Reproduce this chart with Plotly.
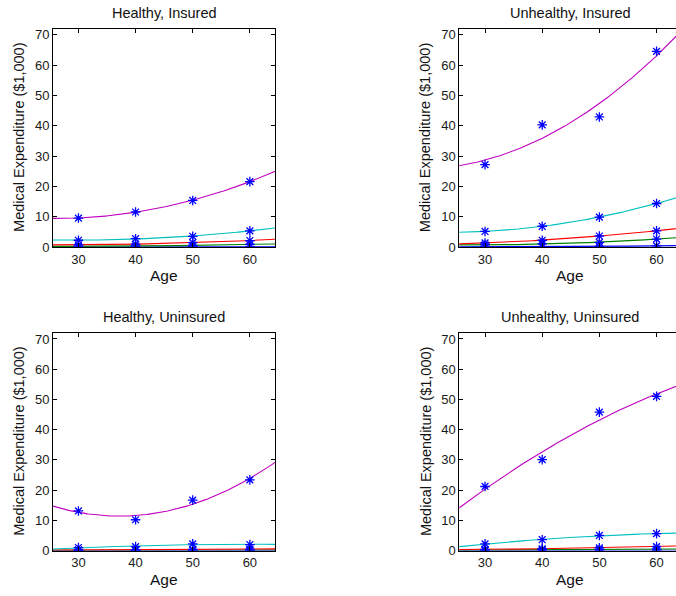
import numpy as np
import plotly.graph_objects as go

# Survey ages at which expenditure quantiles were measured
ages = [30, 40, 50, 60]

# Expenditure quantiles ($1,000), lowest to highest, for each group
healthy_insured = {
    "q1": [0.05, 0.06, 0.08, 0.12],
    "q2": [0.3, 0.4, 0.6, 0.9],
    "q3": [0.8, 1.0, 1.5, 2.2],
    "q4": [2.3, 2.8, 3.6, 5.4],
    "q5": [9.6, 11.6, 15.4, 21.6],
}
unhealthy_insured = {
    "q1": [0.1, 0.15, 0.25, 0.45],
    "q2": [0.75, 1.1, 1.6, 2.7],
    "q3": [1.4, 2.3, 3.7, 5.4],
    "q4": [5.2, 6.9, 9.9, 14.4],
    "q5": [27.2, 40.3, 42.9, 64.5],
}
healthy_uninsured = {
    "q1": [0.03, 0.04, 0.05, 0.06],
    "q2": [0.1, 0.12, 0.15, 0.18],
    "q3": [0.2, 0.3, 0.4, 0.5],
    "q4": [1.0, 1.3, 2.2, 2.0],
    "q5": [13.1, 10.2, 16.7, 23.4],
}
unhealthy_uninsured = {
    "q1": [0.05, 0.06, 0.08, 0.1],
    "q2": [0.2, 0.3, 0.4, 0.5],
    "q3": [0.4, 0.6, 0.9, 1.3],
    "q4": [2.2, 3.6, 5.0, 5.6],
    "q5": [21.2, 30.1, 45.8, 51.0],
}

panel_titles = ["Healthy, Insured", "Unhealthy, Insured",
                "Healthy, Uninsured", "Unhealthy, Uninsured"]
panels = [healthy_insured, unhealthy_insured, healthy_uninsured, unhealthy_uninsured]

y_ticks = [0, 10, 20, 30, 40, 50, 60, 70]
x_ticks = [30, 40, 50, 60]

# MATLAB default line colour order
line_colors = {"q1": "#0000ff", "q2": "#008000", "q3": "#ff0000",
               "q4": "#00bfbf", "q5": "#bf00bf"}

W, H = 676, 596
FONT = "Liberation Sans, Arial, Helvetica, sans-serif"

# Panel placement in pixels: (left, right, top, bottom)
boxes = [
    (53.0, 275.0, 28.0, 250.0),
    (459.3, 676.0, 28.0, 250.0),
    (53.0, 275.0, 337.0, 558.0),
    (459.3, 676.0, 337.0, 558.0),
]
x_ranges = [[25.55, 64.4], [25.5, 63.4], [25.55, 64.4], [25.5, 63.4]]
full_width = 222.0

fig = go.Figure()
grid = np.linspace(25.0, 66.0, 200)

for i, (data, title) in enumerate(zip(panels, panel_titles)):
    k = "" if i == 0 else str(i + 1)
    xa, ya = "x" + k, "y" + k
    left, right, top, bottom = boxes[i]

    # quadratic least-squares trend through each quantile's points
    for name, vals in data.items():
        coef = np.polyfit(ages, vals, 2)
        fig.add_trace(go.Scatter(
            x=grid, y=np.polyval(coef, grid), mode="lines",
            line=dict(color=line_colors[name], width=1.1),
            xaxis=xa, yaxis=ya, hoverinfo="skip"))
    for name, vals in data.items():
        fig.add_trace(go.Scatter(
            x=ages, y=vals, mode="markers",
            marker=dict(symbol="asterisk-open", size=8, color="#0000ff",
                        line=dict(color="#0000ff", width=1.3)),
            xaxis=xa, yaxis=ya))

    is_right = i % 2 == 1
    axis_common = dict(
        showline=True, linecolor="black", linewidth=1,
        ticks="inside", ticklen=4, tickwidth=1, tickcolor="black",
        showgrid=False, zeroline=False,
        tickfont=dict(family=FONT, size=13, color="#1a1a1a"),
    )
    fig.layout["xaxis" + k] = dict(
        axis_common, domain=[left / W, right / W], range=x_ranges[i],
        tickvals=x_ticks, mirror="ticks", anchor=ya)
    fig.layout["yaxis" + k] = dict(
        axis_common, domain=[1 - bottom / H, 1 - top / H], range=[0, 72],
        tickvals=y_ticks, mirror=False if is_right else "ticks", anchor=xa)

    cx = (left + full_width / 2) / W
    fig.add_annotation(text=title, x=cx, y=1 - (top - 16) / H,
                       xref="paper", yref="paper", showarrow=False,
                       xanchor="center", yanchor="middle",
                       font=dict(family=FONT, size=14.5, color="#111111"))
    fig.add_annotation(text="Age", x=cx, y=1 - (bottom + 29) / H,
                       xref="paper", yref="paper", showarrow=False,
                       xanchor="center", yanchor="middle",
                       font=dict(family=FONT, size=15.5, color="#111111"))
    fig.add_annotation(text="Medical Expenditure ($1,000)",
                       x=(left - 34) / W, y=1 - (top + bottom) / 2 / H,
                       xref="paper", yref="paper", showarrow=False,
                       textangle=-90, xanchor="center", yanchor="middle",
                       font=dict(family=FONT, size=14.5, color="#111111"))

fig.update_layout(
    width=W, height=H, margin=dict(l=0, r=0, t=0, b=0),
    paper_bgcolor="white", plot_bgcolor="white", showlegend=False,
)

fig.write_html("out.html", config={"displayModeBar": False})
